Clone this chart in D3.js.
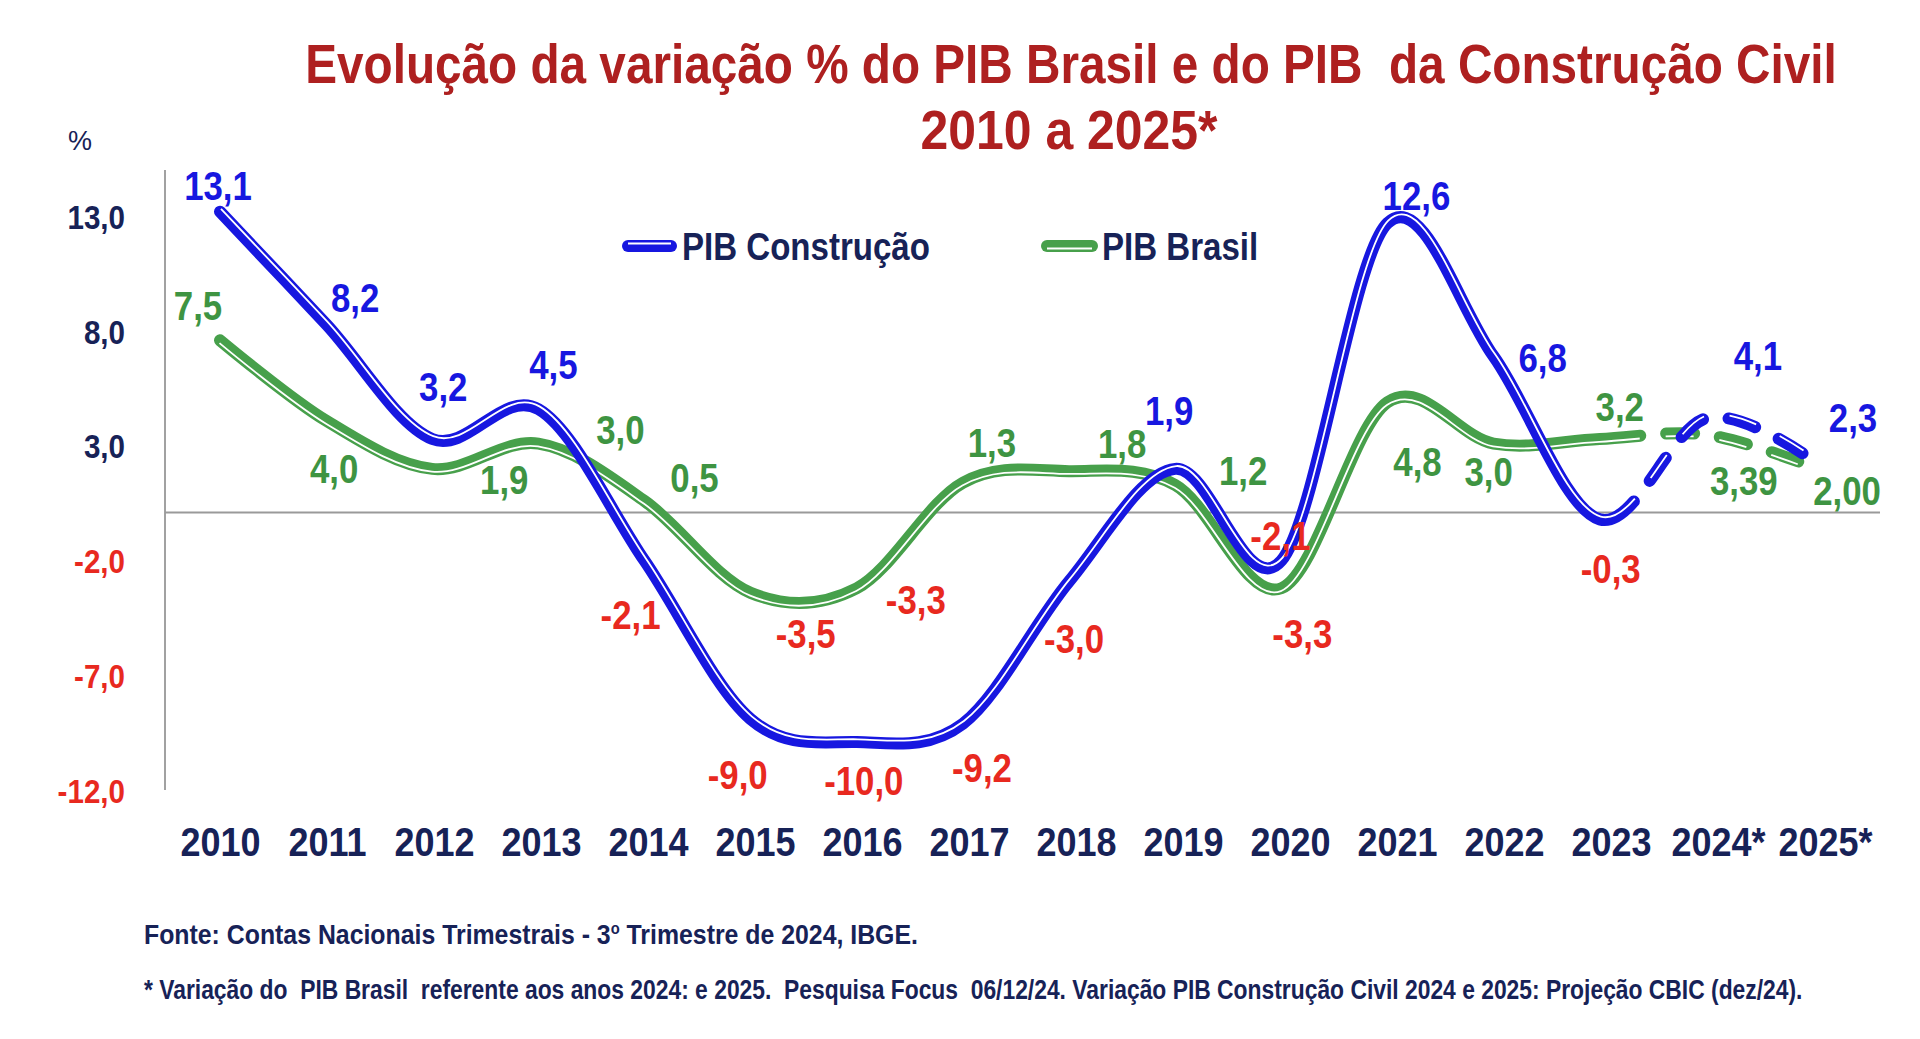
<!DOCTYPE html>
<html><head><meta charset="utf-8">
<script src="https://cdn.jsdelivr.net/npm/d3@7"></script>
<style>
body{margin:0;background:#fff}
svg{display:block}
text{white-space:pre}
</style>
</head><body>
<svg id="chart" width="1920" height="1039"></svg>
<script>
// ---------- data ----------
const years = ["2010","2011","2012","2013","2014","2015","2016","2017","2018","2019","2020","2021","2022","2023","2024*","2025*"];
const pibConstrucao = [13.1, 8.2, 3.2, 4.5, -2.1, -9.0, -10.0, -9.2, -3.0, 1.9, -2.1, 12.6, 6.8, -0.3, 4.1, 2.3];
const pibBrasil     = [7.5, 4.0, 1.9, 3.0, 0.5, -3.5, -3.3, 1.3, 1.8, 1.2, -3.3, 4.8, 3.0, 3.2, 3.39, 2.00];
const brasilDecimals = [1,1,1,1,1,1,1,1,1,1,1,1,1,1,2,2];
const yTicks = [13, 8, 3, -2, -7, -12];
const projectionStart = "2023";
const seriesNames = ["PIB Construção", "PIB Brasil"];
const titleLine1 = "Evolução da variação % do PIB Brasil e do PIB  da Construção Civil";
const titleLine2 = "2010 a 2025*";
const source1a = "Fonte: Contas Nacionais Trimestrais - 3", source1b = "o", source1c = " Trimestre de 2024, IBGE.";
const source2 = "* Variação do  PIB Brasil  referente aos anos 2024: e 2025.  Pesquisa Focus  06/12/24. Variação PIB Construção Civil 2024 e 2025: Projeção CBIC (dez/24).";

// label placement offsets (layout, px)
const offConstrucao = [[-2,-26],[29,-26],[11,-52],[15,-44],[-14,54],[-13,56],[7,39],[19,44],[5,58],[-6,-58],[-1,-25],[29,-27],[49,2],[11,50],[52,-62],[41,-42]];
const offBrasil = [[-22,-34],[8,48],[72,11],[82,-13],[50,-23],[55,41],[59,12],[29,-40],[53,-27],[68,-14],[21,46],[30,60],[-5,29],[20,-32],[38,46],[35,25]];

// ---------- styles ----------
const FONT = "'Liberation Sans Narrow','Arial Narrow','Liberation Sans',Arial,sans-serif";
const BLUE = "#1717E0", GREEN = "#47A04B", GREEN_TXT = "#3E9442", RED = "#E8291F", NAVY = "#172257", TITLE = "#AE2020";
const SX = 0.87;   // horizontal condensing (Arial Narrow look)

const locale = d3.formatLocale({decimal:",", thousands:".", grouping:[3], currency:["",""], minus:"-"});
const f1 = locale.format(".1f"), f2 = locale.format(".2f");

const svg = d3.select("#chart");
const x = d3.scalePoint().domain(years).range([220, 1812]);
const xLabels = x.copy().range([220, 1825]);   // category label positions
const y = d3.scaleLinear().domain([-12, 13]).range([788, 214]);

// condensed text helper: places text at (px,py) and scales horizontally
function ctext(parent, px, py, str, opts) {
  const t = parent.append("text")
    .attr("transform", `translate(${px},${py}) scale(${opts.sx || SX},1)`)
    .attr("text-anchor", opts.anchor || "start")
    .attr("font-family", FONT).attr("font-weight", opts.weight || "bold")
    .attr("font-size", opts.size).attr("fill", opts.fill);
  if (opts.baseline) t.attr("dominant-baseline", opts.baseline);
  if (str !== null) t.text(str);
  return t;
}
// fit text horizontally to a target width
function fitText(t, px, py, target) {
  const w = t.node().getComputedTextLength();
  t.attr("transform", `translate(${px},${py}) scale(${target / w},1)`);
}

// title
const t1 = ctext(svg, 1071, 83, titleLine1, {anchor:"middle", size:55, fill:TITLE});
fitText(t1, 1071, 83, 1531);
const t2 = ctext(svg, 1069, 149, titleLine2, {anchor:"middle", size:55, fill:TITLE});
fitText(t2, 1069, 149, 297);

ctext(svg, 80, 150, "%", {anchor:"middle", size:27, fill:NAVY, weight:"normal", sx:1});

// axes
const yAxis = d3.axisLeft(y).tickValues(yTicks).tickSize(0).tickPadding(0).tickFormat(f1);
const gy = svg.append("g").attr("transform","translate(125,0)").call(yAxis);
gy.select(".domain").remove();
gy.selectAll("text").attr("font-family", FONT).attr("font-weight","bold").attr("font-size", 34)
  .attr("fill", d => d < 0 ? RED : NAVY).attr("x", 0).attr("dy", "0.42em")
  .attr("transform", `scale(${SX},1)`);
svg.append("line").attr("x1",165).attr("x2",165).attr("y1",170).attr("y2",790)
  .attr("stroke","#8a8a8a").attr("stroke-width",1.6);
svg.append("line").attr("x1",165).attr("x2",1880).attr("y1",y(0)).attr("y2",y(0))
  .attr("stroke","#9a9a9a").attr("stroke-width",2);

const xAxis = d3.axisBottom(xLabels).tickSize(0).tickPadding(0);
const gx = svg.append("g").attr("transform","translate(0,828)").call(xAxis);
gx.select(".domain").remove();
gx.selectAll("text").attr("font-family", FONT).attr("font-weight","bold").attr("font-size", 40)
  .attr("fill", NAVY).attr("dy","0.71em").attr("transform", "scale(0.9,1)");

// series
const lineGen = d3.line().curve(d3.curveCardinal.tension(0));
const DASH = 28, GAP = 26, FIRST_DASH = 40;
function drawSeries(values, color, shift) {
  const pts = values.map((v,i) => [x(years[i]), y(v)]);
  const d = lineGen(pts);
  const g = svg.append("g");
  const main = g.append("path").attr("d", d).attr("fill","none").attr("stroke", color)
    .attr("stroke-width", 12).attr("stroke-linecap","round").attr("stroke-linejoin","round");
  const node = main.node();
  const total = node.getTotalLength();
  const xs = x(projectionStart);
  let lo = 0, hi = total;
  for (let k = 0; k < 40; k++) { const m = (lo+hi)/2; if (node.getPointAtLength(m).x < xs) lo = m; else hi = m; }
  const arr = [lo + FIRST_DASH, GAP];
  let acc = lo + FIRST_DASH + GAP;
  while (acc < total + DASH) { arr.push(DASH, GAP); acc += DASH + GAP; }
  main.attr("stroke-dasharray", arr.join(" "));
  g.append("path").attr("d", d).attr("fill","none").attr("stroke","#fff")
    .attr("stroke-width", 1.8).attr("stroke-linecap","butt").attr("stroke-linejoin","round")
    .attr("transform", `translate(${shift[0]},${shift[1]})`).attr("stroke-dasharray", arr.join(" "));
}
drawSeries(pibBrasil, GREEN, [-0.5, 2.8]);
drawSeries(pibConstrucao, BLUE, [1, -2.8]);

// data labels
function drawLabels(values, offs, posColor, fmtFn) {
  const g = svg.append("g");
  values.forEach((v, i) => {
    ctext(g, x(years[i]) + offs[i][0], y(v) + offs[i][1], fmtFn(v, i),
      {anchor:"middle", baseline:"central", size:40, fill: v < 0 ? RED : posColor});
  });
}
drawLabels(pibConstrucao, offConstrucao, BLUE, v => f1(v));
drawLabels(pibBrasil, offBrasil, GREEN_TXT, (v,i) => brasilDecimals[i] === 2 ? f2(v) : f1(v));

// legend
const legend = [
  {name: seriesNames[0], color: BLUE, x1: 628, x2: 671, tx: 682, shift: -2.5},
  {name: seriesNames[1], color: GREEN, x1: 1047, x2: 1092, tx: 1102, shift: 2.5}
];
legend.forEach(l => {
  svg.append("line").attr("x1", l.x1).attr("x2", l.x2).attr("y1", 246).attr("y2", 246)
    .attr("stroke", l.color).attr("stroke-width", 12).attr("stroke-linecap","round");
  svg.append("line").attr("x1", l.x1).attr("x2", l.x2).attr("y1", 246 + l.shift).attr("y2", 246 + l.shift)
    .attr("stroke", "#fff").attr("stroke-width", 1.8);
  ctext(svg, l.tx, 260, l.name, {size:38, fill:NAVY});
});

// footnotes
const fn1 = ctext(svg, 144, 944, null, {size:27, fill:NAVY});
fn1.append("tspan").text(source1a);
fn1.append("tspan").attr("font-size", 16).attr("dy", -10).text(source1b);
fn1.append("tspan").attr("dy", 10).text(source1c);
fitText(fn1, 144, 944, 774);
const fn2 = ctext(svg, 144, 999, source2, {size:27, fill:NAVY});
fitText(fn2, 144, 999, 1659);
</script>
</body></html>
